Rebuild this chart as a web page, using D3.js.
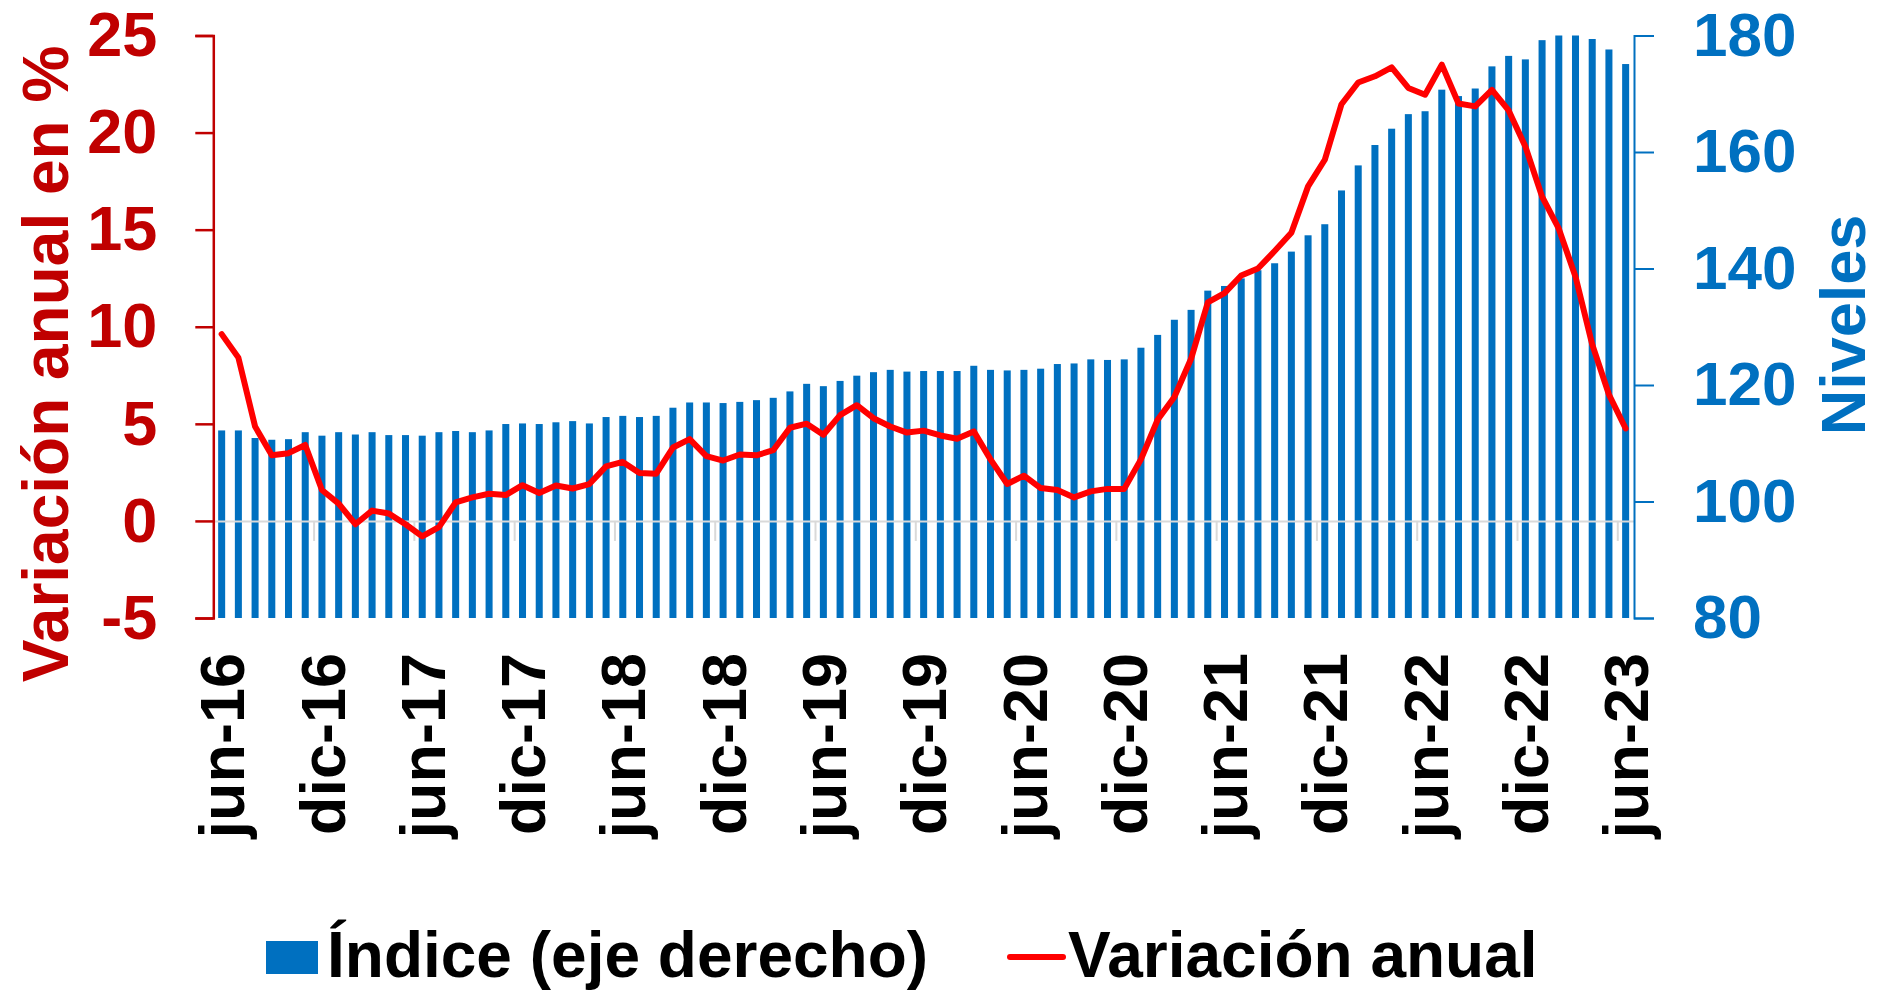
<!DOCTYPE html>
<html>
<head>
<meta charset="utf-8">
<script src="https://cdn.jsdelivr.net/npm/d3@7"></script>
<style>
  body { margin: 0; background: #fff; }
  svg text { font-family: "Liberation Sans", Arial, sans-serif; font-weight: bold; }
</style>
</head>
<body>
<svg id="chart" width="1888" height="991"></svg>
<script>
"use strict";

// months jun-16 .. jun-23
var month_names = ["ene", "feb", "mar", "abr", "may", "jun", "jul", "ago", "sep", "oct", "nov", "dic"];
var months = [];
for (let k = 0; k < 85; ++k)
{
	let m = (5 + k) % 12, yy = 16 + Math.floor((5 + k) / 12);
	months.push(month_names[m] + "-" + yy);
}

// index level (right axis)
var indice = [
	112.2, 112.2, 110.9, 110.6, 110.7, 111.9, 111.3, 111.9, 111.5, 111.9, 111.4, 111.4,
	111.3, 111.9, 112.1, 111.9, 112.2, 113.3, 113.4, 113.3, 113.6, 113.8, 113.4, 114.5,
	114.7, 114.5, 114.7, 116.1, 117.0, 117.0, 116.9, 117.1, 117.4, 117.8, 118.9, 120.2,
	119.8, 120.7, 121.6, 122.2, 122.6, 122.3, 122.4, 122.4, 122.4, 123.3, 122.6, 122.5,
	122.6, 122.8, 123.6, 123.7, 124.4, 124.3, 124.4, 126.4, 128.6, 131.2, 132.9, 136.2,
	137.0, 138.3, 139.7, 140.9, 142.9, 145.7, 147.6, 153.4, 157.7, 161.2, 164.0, 166.5,
	167.0, 170.7, 169.6, 170.9, 174.7, 176.5, 175.9, 179.2, 180.0, 180.0, 179.4, 177.6,
	175.1
];

// annual variation in % (left axis)
var variacion = [
	9.62, 8.41, 4.86, 3.38, 3.49, 3.91, 1.59, 0.89, -0.17, 0.53, 0.38, -0.17,
	-0.80, -0.32, 0.95, 1.21, 1.40, 1.33, 1.84, 1.44, 1.82, 1.67, 1.90, 2.81,
	3.04, 2.47, 2.43, 3.78, 4.21, 3.34, 3.11, 3.42, 3.38, 3.64, 4.80, 5.01,
	4.44, 5.45, 5.96, 5.29, 4.86, 4.55, 4.65, 4.40, 4.23, 4.61, 3.17, 1.90,
	2.33, 1.69, 1.59, 1.21, 1.52, 1.65, 1.65, 3.17, 5.21, 6.38, 8.35, 11.25,
	11.73, 12.64, 13.0, 13.9, 14.84, 17.23, 18.6, 21.46, 22.58, 22.9, 23.36, 22.3,
	21.95, 23.5, 21.5, 21.35, 22.2, 21.14, 19.28, 16.7, 15.05, 12.58, 9.09, 6.51,
	4.76
];

var left_ticks = [-5, 0, 5, 10, 15, 20, 25];
var right_ticks = [80, 100, 120, 140, 160, 180];
var label_months = months.filter(function(d, i) { return i % 6 === 0; });

(function()
{
	let left = 213.3, right = 1634, top = 35.5, bottom = 618;
	let svg = d3.select("svg#chart");

	let x = d3.scaleBand().domain(months).range([left, right])
		.paddingInner(0.58).paddingOuter(0.29);
	let x_idx = d3.scaleLinear().domain([0, months.length]).range([left, right]);
	let y_left = d3.scaleLinear().domain([-5, 25]).range([bottom, top]);
	let y_right = d3.scaleLinear().domain([80, 180]).range([bottom, top]);

	//bars
	svg.append("g")
		.attr("fill", "#0070c0")
		.selectAll("rect")
		.data(indice)
		.join("rect")
		.attr("x", function(d, i) { return x(months[i]); })
		.attr("width", x.bandwidth())
		.attr("y", function(d) { return y_right(d); })
		.attr("height", function(d) { return bottom - y_right(d); });

	//gray zero axis with half-year ticks
	let zero_axis = svg.append("g")
		.attr("transform", "translate(0," + y_left(0) + ")")
		.call(d3.axisBottom(x_idx)
			.tickValues(d3.range(0, months.length, 6))
			.tickSize(20).tickSizeOuter(0).tickFormat(""));
	zero_axis.selectAll("path, line").attr("stroke", "#d9d9d9").attr("stroke-width", 2);

	//line
	let path_func = d3.line()
		.x(function(d, i) { return x(months[i]) + x.bandwidth() / 2; })
		.y(function(d) { return y_left(d); });
	svg.append("path")
		.attr("d", path_func(variacion))
		.attr("fill", "none")
		.attr("stroke", "#ff0000")
		.attr("stroke-width", 6)
		.attr("stroke-linejoin", "round")
		.attr("stroke-linecap", "round");

	//left axis
	let ax_left = svg.append("g")
		.attr("transform", "translate(" + left + ",0)")
		.call(d3.axisLeft(y_left).tickValues(left_ticks).tickSize(18).tickPadding(38)
			.tickFormat(function(d) { return String(d); }));
	ax_left.selectAll("path, line").attr("stroke", "#c00000").attr("stroke-width", 2.5);
	ax_left.selectAll("text").attr("fill", "#c00000").style("font-size", "63px");

	//right axis
	let ax_right = svg.append("g")
		.attr("transform", "translate(" + right + ",0)")
		.call(d3.axisRight(y_right).tickValues(right_ticks).tickSize(20).tickPadding(39)
			.tickFormat(function(d) { return String(d); }));
	ax_right.selectAll("path, line").attr("stroke", "#0070c0").attr("stroke-width", 2);
	ax_right.selectAll("text").attr("fill", "#0070c0").style("font-size", "62px");

	//month labels
	let ax_bottom = svg.append("g")
		.attr("transform", "translate(0," + bottom + ")")
		.call(d3.axisBottom(x).tickValues(label_months).tickSize(0));
	ax_bottom.select(".domain").remove();
	ax_bottom.selectAll("text")
		.attr("fill", "#000")
		.style("font-size", "63px")
		.attr("text-anchor", "end")
		.attr("transform", "rotate(-90)")
		.attr("x", -35)
		.attr("y", 0)
		.attr("dy", "0.36em");

	//axis titles
	svg.append("text")
		.attr("transform", "translate(68,364) rotate(-90)")
		.attr("text-anchor", "middle")
		.attr("fill", "#c00000")
		.style("font-size", "64px")
		.text("Variación anual en %");
	svg.append("text")
		.attr("transform", "translate(1865,325) rotate(-90)")
		.attr("text-anchor", "middle")
		.attr("fill", "#0070c0")
		.style("font-size", "63px")
		.text("Niveles");

	//legend
	let legend = svg.append("g").style("font-size", "64px");
	legend.append("rect")
		.attr("x", 266).attr("y", 941).attr("width", 52).attr("height", 33)
		.attr("fill", "#0070c0");
	legend.append("text").attr("x", 327).attr("y", 977).attr("fill", "#000")
		.text("Índice (eje derecho)");
	legend.append("line")
		.attr("x1", 1010).attr("x2", 1063).attr("y1", 957).attr("y2", 957)
		.attr("stroke", "#ff0000").attr("stroke-width", 6).attr("stroke-linecap", "round");
	legend.append("text").attr("x", 1068).attr("y", 977).attr("fill", "#000")
		.text("Variación anual");
})();
</script>
</body>
</html>
